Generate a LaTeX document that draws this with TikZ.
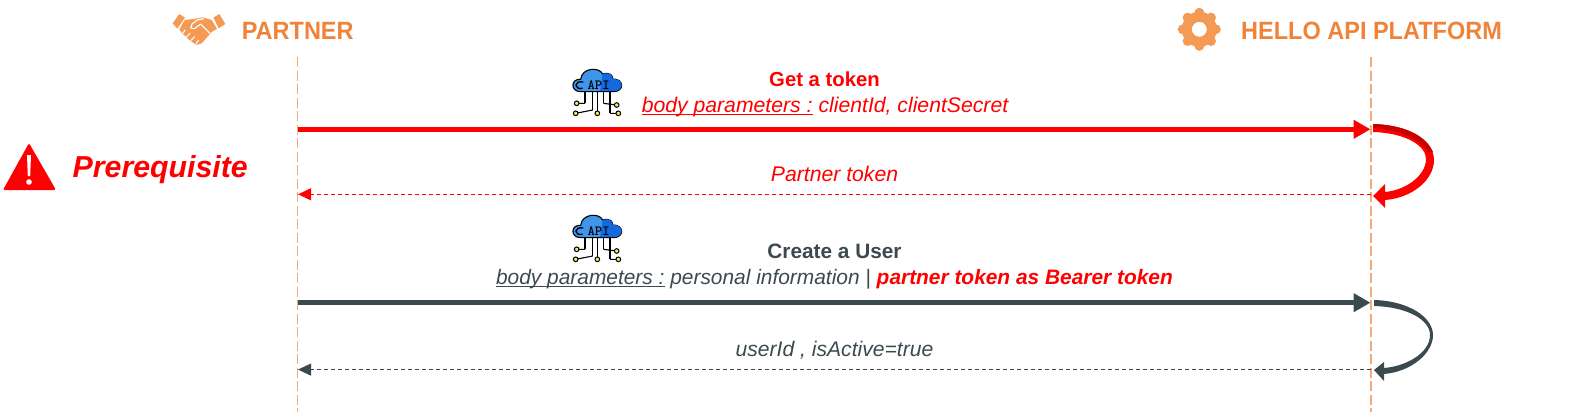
\documentclass[tikz,border=0pt]{standalone}
\usepackage{fontspec}
\setmainfont{Liberation Sans}
\newfontfamily\headfont[FakeStretch=0.94]{Liberation Sans}
\usetikzlibrary{arrows.meta}
\definecolor{lifeorange}{HTML}{F2AC7A}
\definecolor{headorange}{HTML}{F0833A}
\definecolor{iconorange}{HTML}{F59A55}
\definecolor{slate}{HTML}{3B4A4F}
\definecolor{reddark}{HTML}{C80000}
\definecolor{cloudblue}{HTML}{3F95EA}
\definecolor{clouddeep}{HTML}{1469DE}
\definecolor{dotyellow}{HTML}{F5E663}
\newcommand\fs[1]{\fontsize{#1}{#1}\selectfont}
\newcommand\ulbl[1]{\underline{\smash{#1}}}
\tikzset{
  x=1pt,y=-1pt,
  lifeline/.style={draw=lifeorange,line width=1.1pt,dash pattern=on 10pt off 3.5pt},
  callarrow/.style={line width=5.5pt,-{Triangle[length=17pt,width=18pt]}},
  backarrow/.style={line width=0.9pt,dash pattern=on 4pt off 3pt,-{Triangle[length=13pt,width=12pt]}},
  lbl/.style={inner sep=0pt,anchor=base},
  headlbl/.style={lbl,anchor=base west,text=headorange,font=\fs{25}\headfont\bfseries},
  pics/apiicon/.style={code={
    \begin{scope}[scale=1/3]
      \foreach \a/\b/\c/\d in {75/95/75/130,98/95/98/150,112/95/112/160,130/95/130/130,150/95/150/160}
        \draw[black,line width=1.1pt] (\a,\b) -- (\c,\d);
      \draw[black,line width=1.1pt] (75,130) -- (50,130) (98,150) -- (47,160) (130,130) -- (170,135) (150,160) -- (175,160);
      \fill[cloudblue,draw=black,line width=1.1pt] (62,95) .. controls (30,95) and (32,55) .. (62,58)
        .. controls (66,22) and (118,20) .. (128,42)
        .. controls (150,35) and (160,48) .. (158,57)
        .. controls (192,55) and (195,95) .. (160,95) -- cycle;
      \fill[clouddeep] (128,42) .. controls (150,35) and (160,48) .. (158,57) .. controls (192,55) and (195,93) .. (160,93) -- (120,93) -- cycle;
      \node[inner sep=0pt,text=black] at (116,76) {\fs{14}\ttfamily\bfseries API};
      \draw[black,line width=1.3pt] (70,66) .. controls (42,60) and (40,90) .. (68,85);
      \foreach \a/\b in {50/130,47/160,112/160,170/135,175/160}
        \fill[dotyellow,draw=black,line width=1pt] (\a,\b) circle (7);
    \end{scope}
  }},
}
\begin{document}
\begin{tikzpicture}
\useasboundingbox (0,0) rectangle (1572,413);
% lifelines
\coordinate (pTop) at (297.5,57); \coordinate (pBot) at (297.5,412);
\coordinate (hTop) at (1371,57); \coordinate (hBot) at (1371,412);
\draw[lifeline] (pTop) -- (pBot);
\draw[lifeline] (hTop) -- (hBot);
% anchors for messages
\coordinate (p1) at (297.5,129.3); \coordinate (h1) at (1370.5,129.3);
\coordinate (h2) at (1371,194.3); \coordinate (p2) at (298,194.3);
\coordinate (p3) at (297.5,302.7); \coordinate (h3) at (1370.5,302.7);
\coordinate (h4) at (1371,369.6); \coordinate (p4) at (298,369.6);
\draw[callarrow,red] (p1) -- (h1);
\draw[backarrow,red] (h2) -- (p2);
\draw[callarrow,slate] (p3) -- (h3);
\draw[backarrow,slate] (h4) -- (p4);
% self loops
\fill[red] (1373,124) .. controls (1412,125) and (1434,142) .. (1434,160)
  .. controls (1434,180) and (1412,198) .. (1385,200) -- (1385,208) -- (1373,196) -- (1385,184) -- (1385,192)
  .. controls (1406,190) and (1425,176) .. (1426,160)
  .. controls (1427,146) and (1406,133) .. (1373,132) -- cycle;
\fill[reddark] (1373,124) .. controls (1402,125) and (1425,134) .. (1433,152) -- (1428,152) .. controls (1418,138) and (1400,130) .. (1373,128) -- cycle;
\fill[slate] (1374,300) .. controls (1410,301) and (1433,318) .. (1433,335)
  .. controls (1433,354) and (1410,372) .. (1384,374) -- (1384,381) -- (1374,370) -- (1384,362) -- (1384,368)
  .. controls (1408,366) and (1430,352) .. (1430,335)
  .. controls (1430,320) and (1408,307) .. (1374,306) -- cycle;
% headers
\node[headlbl] (partner) at (241.6,39) {PARTNER};
\node[headlbl] (platform) at (1241,39) {HELLO API PLATFORM};
% handshake
\begin{scope}[shift={(160,0)},scale=1/3]
  \fill[iconorange] (38,70) -- (58,42) -- (75,53) -- (52,86) -- cycle;
  \fill[iconorange] (160,53) -- (178,42) -- (196,72) -- (176,85) -- cycle;
  \fill[iconorange] (74,60) -- (108,56) -- (130,52) -- (155,60) -- (171,86) -- (155,96)
     -- (125,130) -- (110,135) -- (90,122) -- (65,98) -- (58,88) -- cycle;
  \draw[white,line width=1.1pt,line join=round] (150,100) -- (122,72) -- (104,86) -- (92,84) -- (96,72) -- (112,60) -- (132,56);
  \draw[white,line width=1pt] (76,90) -- (68,100) (90,100) -- (78,112) (104,110) -- (92,122) (116,120) -- (108,132);
\end{scope}
% gear
\begin{scope}[shift={(1199.3,29.3)}]
  \foreach \r in {0,45,...,315}
    \fill[iconorange,rotate=\r] (0,-16.5) circle (5);
  \fill[iconorange,even odd rule] (0,0) circle (17.5) (0,0) circle (7.5);
\end{scope}
% warning
\fill[red,rounded corners=1.5pt] (29,143) -- (56,190) -- (3,190) -- cycle;
\fill[white] (27,155) -- (31,155) -- (30.2,176) -- (27.8,176) -- cycle;
\fill[white] (29,182) circle (2.8);
\node[lbl,anchor=base west,text=red,font=\fs{30.3}\bfseries\itshape] (prereq) at (72.5,177.4) {Prerequisite};
% api icons
\pic at (560,60) {apiicon};
\pic at (560,206) {apiicon};
% labels
\node[lbl,text=red,font=\fs{20.3}\bfseries] (t1) at (824.5,86.3) {Get a token};
\node[lbl,text=red,font=\fs{21.2}\itshape] (t2) at (825,112.3) {\ulbl{body parameters :} clientId, clientSecret};
\node[lbl,text=red,font=\fs{21.2}\itshape] (t3) at (834.5,181.5) {Partner token};
\node[lbl,text=slate,font=\fs{20.8}\bfseries] (t4) at (834.5,258.6) {Create a User};
\node[lbl,text=slate,font=\fs{20.9}\itshape] (t5) at (834.5,284.7) {\ulbl{body parameters :} personal information | \textcolor{red}{\bfseries partner token as Bearer token}};
\node[lbl,text=slate,font=\fs{21.1}\itshape] (t6) at (834.5,356) {userId , isActive=true};
\end{tikzpicture}
\end{document}
